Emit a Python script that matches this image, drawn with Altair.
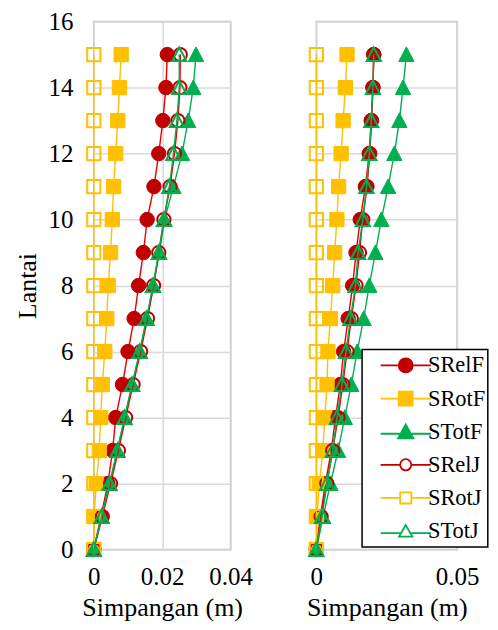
import altair as alt
import pandas as pd

floors = list(range(16))
series_names = ["SRelF", "SRotF", "STotF", "SRelJ", "SRotJ", "STotJ"]

# Left panel (m)
SRelF_L = [0, 0.0021, 0.0041, 0.0055, 0.0064, 0.0084, 0.0100, 0.0118, 0.0131, 0.0145, 0.0156, 0.0176, 0.0190, 0.0202, 0.0211, 0.0215]
SRotF_L = [0, 0.0001, 0.0007, 0.0016, 0.0020, 0.0025, 0.0032, 0.0038, 0.0042, 0.0049, 0.0054, 0.0058, 0.0064, 0.0070, 0.0075, 0.0080]
STotF_L = [0, 0.0023, 0.0046, 0.0069, 0.0090, 0.0112, 0.0135, 0.0155, 0.0174, 0.0192, 0.0207, 0.0233, 0.0258, 0.0276, 0.0291, 0.0299]
SRelJ_L = [0, 0.0025, 0.0049, 0.0072, 0.0093, 0.0115, 0.0137, 0.0157, 0.0175, 0.0190, 0.0205, 0.0223, 0.0236, 0.0246, 0.0252, 0.0253]
SRotJ_L = [0, 0.0000, 0.0000, 0.0000, 0.0000, 0.0000, 0.0000, 0.0000, 0.0000, 0.0000, 0.0000, 0.0000, 0.0000, 0.0000, 0.0000, 0.0000]
STotJ_L = [0, 0.0023, 0.0046, 0.0069, 0.0090, 0.0112, 0.0134, 0.0154, 0.0173, 0.0190, 0.0205, 0.0221, 0.0233, 0.0243, 0.0250, 0.0250]

# Right panel (m)
SRelF_R = [0, 0.0014, 0.0032, 0.0053, 0.0068, 0.0085, 0.0097, 0.0113, 0.0129, 0.0141, 0.0156, 0.0174, 0.0188, 0.0195, 0.0201, 0.0204]
SRotF_R = [0, 0.0002, 0.0011, 0.0023, 0.0030, 0.0038, 0.0041, 0.0050, 0.0058, 0.0065, 0.0073, 0.0079, 0.0088, 0.0095, 0.0103, 0.0109]
STotF_R = [0, 0.0024, 0.0050, 0.0077, 0.0101, 0.0124, 0.0145, 0.0168, 0.0188, 0.0210, 0.0231, 0.0255, 0.0277, 0.0295, 0.0308, 0.0320]
SRelJ_R = [0, 0.0017, 0.0037, 0.0058, 0.0077, 0.0094, 0.0109, 0.0124, 0.0141, 0.0153, 0.0165, 0.0180, 0.0190, 0.0196, 0.0201, 0.0204]
SRotJ_R = [0, 0.0000, 0.0000, 0.0000, 0.0000, 0.0000, 0.0000, 0.0000, 0.0000, 0.0000, 0.0000, 0.0000, 0.0000, 0.0000, 0.0000, 0.0000]
STotJ_R = [0, 0.0020, 0.0038, 0.0058, 0.0073, 0.0091, 0.0105, 0.0121, 0.0139, 0.0148, 0.0165, 0.0178, 0.0188, 0.0195, 0.0201, 0.0204]

left = dict(zip(series_names, [SRelF_L, SRotF_L, STotF_L, SRelJ_L, SRotJ_L, STotJ_L]))
right = dict(zip(series_names, [SRelF_R, SRotF_R, STotF_R, SRelJ_R, SRotJ_R, STotJ_R]))

left_ticks = [0, 0.02, 0.04]
right_ticks = [0, 0.05]
y_ticks = [0, 2, 4, 6, 8, 10, 12, 14, 16]

rows = []
for panel, data in (("L", left), ("R", right)):
    for s in series_names:
        for f, v in zip(floors, data[s]):
            rows.append({"panel": panel, "series": s, "lantai": f, "simp": v})
df = pd.DataFrame(rows)

FONT = "Liberation Serif"
RED_M, RED_L = "#C00000", "#E80000"
YEL = "#FFC000"
GRN = "#00B050"

TRI = "M0,-1.05L1.05,0.95L-1.05,0.95Z"
style = {
    "SRelF": dict(line=RED_L, col=RED_M, shape="circle", size=210, filled=True),
    "SRotF": dict(line=YEL, col=YEL, shape="square", size=205, filled=True),
    "STotF": dict(line=GRN, col=GRN, shape=TRI, size=215, filled=True),
    "SRelJ": dict(line=RED_L, col=RED_M, shape="circle", size=175, filled=False),
    "SRotJ": dict(line=YEL, col=YEL, shape="square", size=175, filled=False),
    "STotJ": dict(line=GRN, col=GRN, shape=TRI, size=185, filled=False),
}

leg_paths = [
    "M-3.6,0L-1,0M1,0L3.6,0M-1,0A1,1 0 1,0 1,0A1,1 0 1,0 -1,0",
    "M-3.6,0L-1,0M1,0L3.6,0M-1,-1L1,-1L1,1L-1,1Z",
    "M-3.6,0.3L-0.85,0.3M0.85,0.3L3.6,0.3M0,-1.05L1.1,0.95L-1.1,0.95Z",
    "M-3.6,0L-0.8,0M0.8,0L3.6,0M-0.8,0A0.8,0.8 0 1,0 0.8,0A0.8,0.8 0 1,0 -0.8,0",
    "M-3.6,0L-0.8,0M0.8,0L3.6,0M-0.8,-0.8L0.8,-0.8L0.8,0.8L-0.8,0.8Z",
    "M-3.6,0.3L-0.7,0.3M0.7,0.3L3.6,0.3M0,-0.85L0.95,0.8L-0.95,0.8Z",
]
leg_fill = [RED_M, YEL, GRN, "white", "white", "white"]
leg_stroke = [RED_M, YEL, GRN, RED_M, YEL, GRN]

LBL = dict(labelFont=FONT, labelFontSize=25, labelColor="black",
           titleFont=FONT, titleFontSize=26, titleFontWeight="normal", titleColor="black",
           gridColor="#D9D9D9", gridWidth=1.5)


def panel_chart(panel, xmax, xticks, show_y, with_legend, width):
    base = alt.Chart(df).transform_filter(alt.datum.panel == panel)
    x = alt.X(
        "simp:Q",
        scale=alt.Scale(domain=[0, xmax], nice=False, zero=True),
        axis=alt.Axis(values=xticks, format="~g", title="Simpangan (m)",
                      labelPadding=15, titlePadding=5, ticks=False, domain=False,
                      labelFlush=False, **LBL),
    )
    if show_y:
        yaxis = alt.Axis(values=y_ticks, title="Lantai", labelPadding=21, titlePadding=7,
                         ticks=False, domain=False, **LBL)
    else:
        yaxis = alt.Axis(values=y_ticks, title=None, labels=False, ticks=False, domain=False,
                         gridColor="#D9D9D9", gridWidth=1.5)
    y = alt.Y("lantai:Q", scale=alt.Scale(domain=[0, 16], nice=False), axis=yaxis)

    layers = []
    for s in series_names:
        st = style[s]
        sb = base.transform_filter(alt.datum.series == s)
        layers.append(
            sb.mark_line(color=st["line"], strokeWidth=1.4).encode(
                x=x, y=y, order=alt.Order("lantai:Q"))
        )
        if st["filled"]:
            pm = sb.mark_point(shape=st["shape"], size=st["size"], filled=True,
                               fill=st["col"], stroke=st["col"], strokeWidth=1, opacity=1)
        else:
            pm = sb.mark_point(shape=st["shape"], size=st["size"], filled=False,
                               color=st["col"], strokeWidth=2, opacity=1)
        layers.append(pm.encode(x=x, y=y))

    if with_legend:
        leg = alt.Legend(
            title=None, orient="none", legendX=45.8, legendY=328.5,
            fillColor="white", strokeColor="black", padding=2, cornerRadius=0,
            symbolSize=196, symbolStrokeWidth=1.8, symbolOpacity=1,
            symbolOffset=30.5, labelOffset=11, rowPadding=5.2, clipHeight=28,
            labelFont=FONT, labelFontSize=22.5, labelColor="black",
        )
        layers.append(
            base.mark_point(opacity=0).encode(
                x=x, y=y,
                shape=alt.Shape("series:N", scale=alt.Scale(domain=series_names, range=leg_paths), legend=leg),
                fill=alt.Fill("series:N", scale=alt.Scale(domain=series_names, range=leg_fill), legend=leg),
                stroke=alt.Stroke("series:N", scale=alt.Scale(domain=series_names, range=leg_stroke), legend=leg),
            )
        )
    return alt.layer(*layers).properties(width=width, height=529)


left_chart = panel_chart("L", 0.04, left_ticks, True, False, 137)
right_chart = panel_chart("R", 0.05, right_ticks, False, True, 141)

chart = (
    alt.hconcat(left_chart, right_chart, spacing=86, bounds="flush")
    .resolve_scale(shape="independent", fill="independent", stroke="independent")
    .resolve_legend(shape="independent", fill="independent", stroke="independent")
    .properties(padding={"left": 6, "top": 0, "right": 0, "bottom": 0}, background="white")
    .configure(font=FONT, style={"guide-label": {"font": FONT, "fontSize": 25, "fill": "black"}})
    .configure_axis(labelFont=FONT, labelFontSize=25, labelColor="black")
    .configure_view(stroke="#BFBFBF", strokeWidth=1.5)
    .configure_legend(strokeWidth=1.5)
)

chart.save("out.html", embed_options={"renderer": "svg", "actions": False})
